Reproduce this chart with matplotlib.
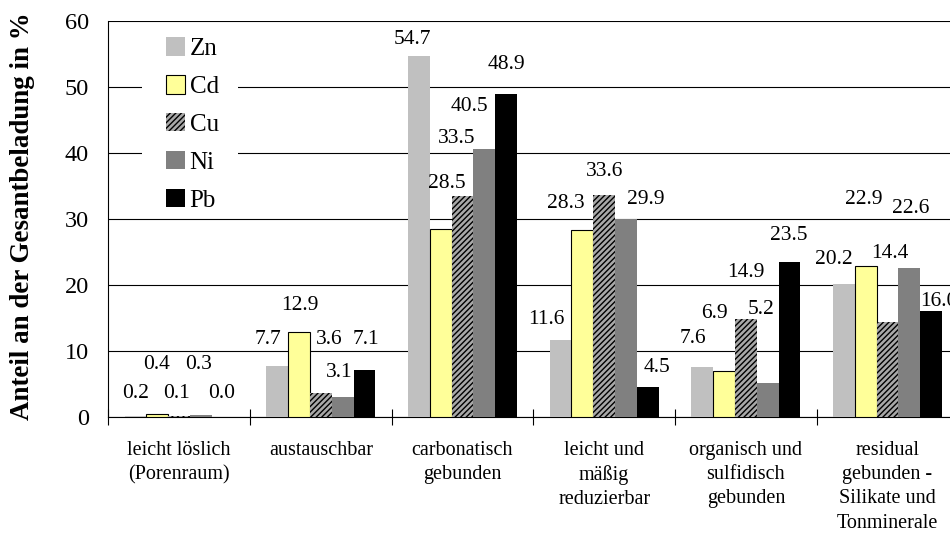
import numpy as np
import matplotlib
matplotlib.use("Agg")
import matplotlib.pyplot as plt
from matplotlib.patches import Rectangle

plt.rcParams['font.family'] = ['Liberation Serif', 'DejaVu Serif']
plt.rcParams['hatch.linewidth'] = 1.0

# Fraktionen der sequentiellen Extraktion
kategorien = ['leicht löslich\n(Porenraum)', 'austauschbar', 'carbonatisch\ngebunden',
              'leicht und\nmäßig\nreduzierbar', 'organisch und\nsulfidisch\ngebunden',
              'residual\ngebunden -\nSilikate und\nTonminerale']
metalle = ['Zn', 'Cd', 'Cu', 'Ni', 'Pb']

zn = [0.2, 7.7, 54.7, 11.6, 7.6, 20.2]
cd = [0.4, 12.9, 28.5, 28.3, 6.9, 22.9]
cu = [0.1, 3.6, 33.5, 33.6, 14.9, 14.4]
ni = [0.3, 3.1, 40.5, 29.9, 5.2, 22.6]
pb = [0.0, 7.1, 48.9, 4.5, 23.5, 16.0]
werte = [zn, cd, cu, ni, pb]

# Lage der Beschriftungen (x-Versatz zur Gruppenmitte, y in %)
label_dx = [[-0.31, -0.16, -0.02, 0.14, 0.30],
            [-0.37, -0.15, 0.06, 0.13, 0.32],
            [-0.35, -0.11, -0.04, 0.05, 0.31],
            [-0.41, -0.27, 0.00, 0.29, 0.37],
            [-0.37, -0.22, 0.00, 0.11, 0.30],
            [-0.38, -0.17, 0.02, 0.16, 0.36]]
label_y = [[3.6, 8.0, 3.6, 8.0, 3.6],
           [11.8, 16.9, 11.8, 6.7, 11.8],
           [57.1, 35.4, 42.2, 47.0, 53.3],
           [14.7, 32.3, 37.2, 32.9, 7.5],
           [11.9, 15.7, 21.9, 16.3, 27.5],
           [23.9, 32.9, 24.7, 31.5, 17.5]]

stile = [dict(color='#c0c0c0'),
         dict(color='#ffff99', edgecolor='black', linewidth=0.8),
         dict(facecolor='#a8a8a8', edgecolor='black', linewidth=0, hatch='//////'),
         dict(color='#808080'),
         dict(color='black')]

fig = plt.figure(figsize=(9.5, 5.37), dpi=100)
ax = fig.add_axes([0.114, 0.2235, 0.8948, 0.738])

x = np.arange(len(kategorien))
breite = 0.154
for j, (name, daten) in enumerate(zip(metalle, werte)):
    ax.bar(x + (j - 2) * breite, daten, breite, label=name, zorder=3, **stile[j])

for i in range(len(kategorien)):
    for j in range(len(metalle)):
        ax.text(i + label_dx[i][j], label_y[i][j], f"{werte[j][i]:.1f}",
                ha='center', va='center', fontsize=15.5, zorder=4)

ax.set_xlim(-0.5, len(kategorien) - 0.5)
ax.set_ylim(0, 60)
ax.set_yticks(np.arange(0, 61, 10))
ax.yaxis.grid(True, color='black', linewidth=0.8, zorder=0)
ax.set_axisbelow(True)
ax.tick_params(axis='y', length=0, pad=14, labelsize=17.5)

ax.set_xticks(np.arange(len(kategorien) + 1) - 0.5)
ax.set_xticklabels([])
ax.set_xticks(x, kategorien, minor=True)
ax.tick_params(axis='x', which='major', direction='inout', length=11, width=0.8)
ax.tick_params(axis='x', which='minor', length=0, pad=17, labelsize=14.5)
for t in ax.get_xticklabels(minor=True):
    t.set_linespacing(1.38)

for s in ['top', 'right']:
    ax.spines[s].set_visible(False)
for s in ['left', 'bottom']:
    ax.spines[s].set_linewidth(0.8)

fig.text(0.024, 1 - 216 / 537, 'Anteil an der Gesantbeladung in %', rotation=90,
         ha='center', va='center', fontsize=19.4, fontweight='bold')

# weißer Hintergrund der Legende (Gitterlinien 40 und 50 verdeckt)
ax.add_patch(Rectangle((33.4 / 850, 1 - 192 / 396.3), 96.6 / 850, 165 / 396.3,
                       transform=ax.transAxes, facecolor='white', edgecolor='none',
                       zorder=4))
leg = ax.legend(loc='upper left', bbox_to_anchor=(0.056, 0.983), fontsize=18,
                frameon=False, handlelength=0.75, handleheight=0.75,
                handletextpad=0.2, labelspacing=0.6, borderaxespad=0)
leg.set_zorder(5)

fig.savefig('out.png', dpi=100)
